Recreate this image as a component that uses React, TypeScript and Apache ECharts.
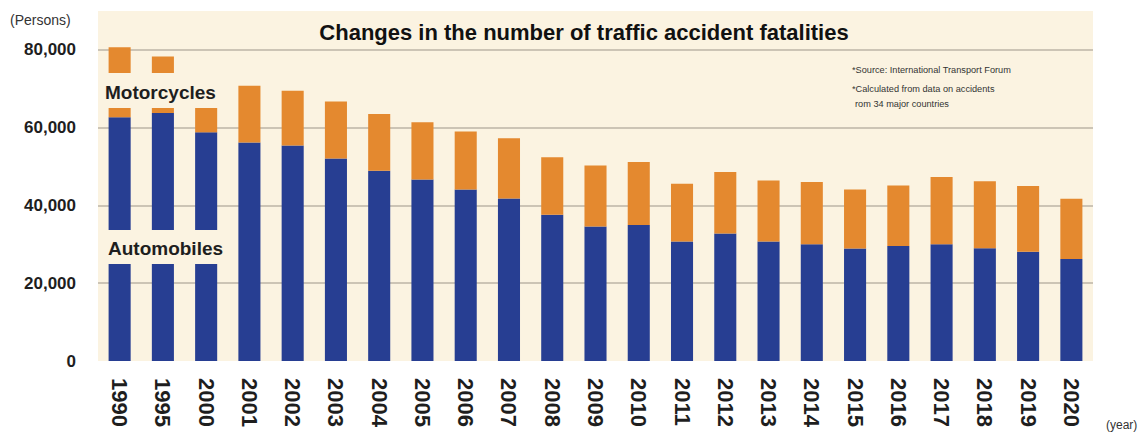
import React, { useEffect, useRef } from "react";
import * as echarts from "echarts";

const years = [
  "1990", "1995", "2000", "2001", "2002", "2003", "2004", "2005", "2006", "2007", "2008",
  "2009", "2010", "2011", "2012", "2013", "2014", "2015", "2016", "2017", "2018", "2019", "2020",
];
const automobiles = [
  62700, 63800, 58800, 56200, 55400, 52100, 48900, 46700, 44100, 41800, 37600,
  34600, 35000, 30700, 32800, 30700, 30000, 28900, 29600, 30000, 29000, 28100, 26200,
];
const motorcycles = [
  18000, 14500, 6300, 14600, 14100, 14600, 14600, 14700, 14900, 15500, 14800,
  15700, 16200, 14900, 15800, 15700, 16000, 15200, 15500, 17300, 17200, 16900, 15500,
];
const yTicks = [0, 20000, 40000, 60000, 80000];

const BG = "#FBF3E1";
const FONT = "Liberation Sans";

export default function App() {
  const ref = useRef<HTMLDivElement>(null);
  useEffect(() => {
    if (!ref.current) return;
    const chart = echarts.init(ref.current, undefined, { renderer: "svg" });
    chart.setOption({
      animation: false,
      grid: {
        left: 98,
        right: 51,
        top: 11,
        bottom: 71,
        show: true,
        backgroundColor: BG,
        borderWidth: 0,
      },
      xAxis: {
        type: "category",
        data: years,
        axisLine: { show: false },
        axisTick: { show: false },
        axisLabel: {
          rotate: -90,
          interval: 0,
          margin: 17,
          fontSize: 22,
          fontWeight: "bold",
          fontFamily: FONT,
          color: "#1e1e1e",
        },
      },
      yAxis: {
        type: "value",
        min: 0,
        max: 90000,
        interval: 20000,
        axisLine: { show: false },
        axisTick: { show: false },
        axisLabel: {
          margin: 22,
          fontSize: 17,
          fontWeight: "bold",
          fontFamily: FONT,
          color: "#1e1e1e",
          showMaxLabel: false,
          formatter: (v: number) =>
            yTicks.indexOf(v) >= 0 ? v.toLocaleString("en-US") : "",
        },
        splitLine: {
          show: true,
          showMinLine: false,
          showMaxLine: false,
          lineStyle: { color: "#BDB4A6", width: 1.5 },
        },
      },
      series: [
        {
          name: "Automobiles",
          type: "bar",
          stack: "total",
          data: automobiles,
          barWidth: "51%",
          itemStyle: { color: "#273E92" },
        },
        {
          name: "Motorcycles",
          type: "bar",
          stack: "total",
          data: motorcycles,
          barWidth: "51%",
          itemStyle: { color: "#E4892F" },
        },
      ],
      graphic: [
        {
          type: "rect",
          z: 100,
          shape: { x: 100, y: 73, width: 130, height: 35 },
          style: { fill: BG },
        },
        {
          type: "rect",
          z: 100,
          shape: { x: 100, y: 230, width: 130, height: 34 },
          style: { fill: BG },
        },
        {
          type: "text",
          z: 101,
          x: 105,
          y: 92,
          style: {
            text: "Motorcycles",
            font: `bold 19px ${FONT}`,
            fill: "#1e1e1e",
            textVerticalAlign: "middle",
          },
        },
        {
          type: "text",
          z: 101,
          x: 108,
          y: 248,
          style: {
            text: "Automobiles",
            font: `bold 19px ${FONT}`,
            fill: "#1e1e1e",
            textVerticalAlign: "middle",
          },
        },
        {
          type: "text",
          z: 101,
          x: 584,
          y: 32,
          style: {
            text: "Changes in the number of traffic accident fatalities",
            font: `bold 22px ${FONT}`,
            fill: "#111",
            textAlign: "center",
            textVerticalAlign: "middle",
          },
        },
        {
          type: "text",
          z: 101,
          x: 852,
          y: 70,
          style: {
            text: "*Source: International Transport Forum",
            font: `9.2px ${FONT}`,
            fill: "#333",
            textVerticalAlign: "middle",
          },
        },
        {
          type: "text",
          z: 101,
          x: 852,
          y: 89,
          style: {
            text: "*Calculated from data on accidents",
            font: `9.2px ${FONT}`,
            fill: "#333",
            textVerticalAlign: "middle",
          },
        },
        {
          type: "text",
          z: 101,
          x: 855,
          y: 104,
          style: {
            text: "rom 34 major countries",
            font: `9.2px ${FONT}`,
            fill: "#333",
            textVerticalAlign: "middle",
          },
        },
        {
          type: "text",
          z: 101,
          x: 10,
          y: 20,
          style: {
            text: "(Persons)",
            font: `14px ${FONT}`,
            fill: "#333",
            textVerticalAlign: "middle",
          },
        },
        {
          type: "text",
          z: 101,
          x: 1106,
          y: 425,
          style: {
            text: "(year)",
            font: `12px ${FONT}`,
            fill: "#333",
            textVerticalAlign: "middle",
          },
        },
      ],
    });
    return () => chart.dispose();
  }, []);
  return (
    <div
      ref={ref}
      style={{ position: "absolute", left: 0, top: 0, width: 1144, height: 432 }}
    />
  );
}
